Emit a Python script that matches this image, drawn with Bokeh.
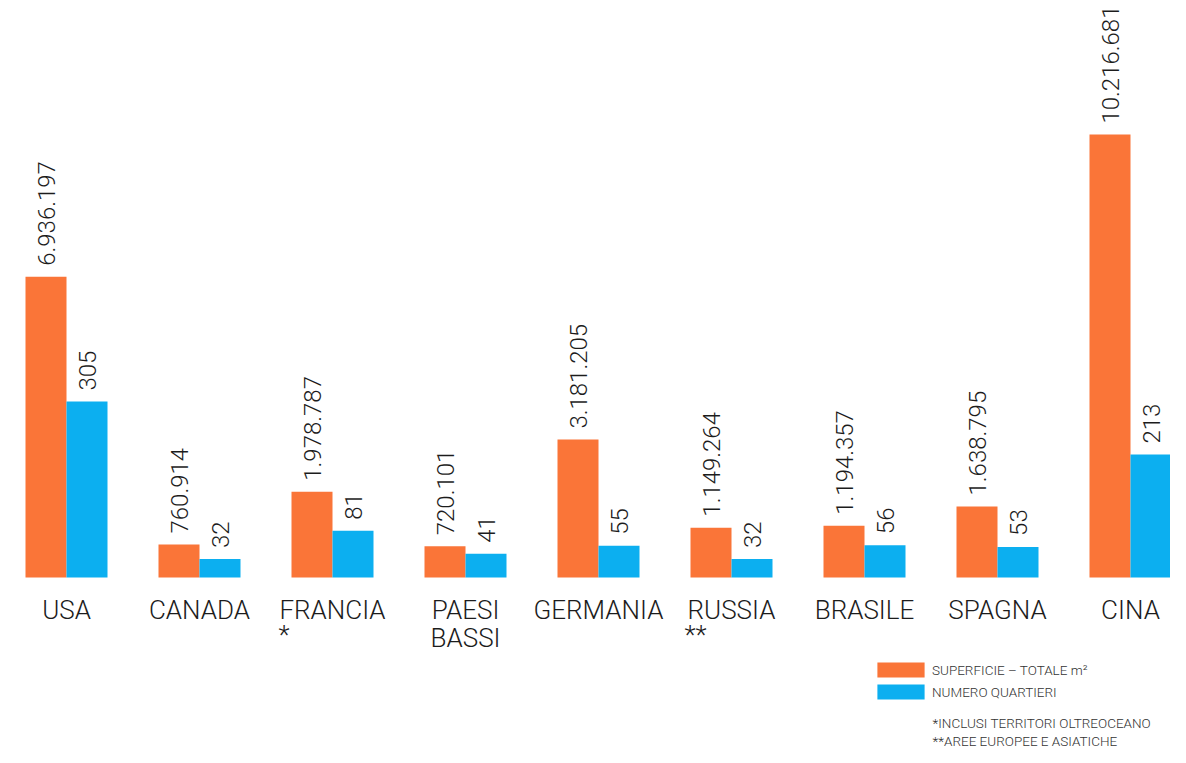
import numpy as np
from bokeh.plotting import figure
from bokeh.models import ColumnDataSource, Range1d, Label
from bokeh.transform import dodge
from bokeh.core.properties import value
from bokeh.embed import file_html
from bokeh.resources import INLINE

# ---- data -------------------------------------------------------------
countries = ["USA", "CANADA", "FRANCIA", "PAESI\nBASSI", "GERMANIA",
             "RUSSIA", "BRASILE", "SPAGNA", "CINA"]
notes = ["", "", "*", "", "", "**", "", "", ""]
superficie = [6936197, 760914, 1978787, 720101, 3181205,
              1149264, 1194357, 1638795, 10216681]
quartieri = [305, 32, 81, 41, 55, 32, 56, 53, 213]
legend_labels = ["SUPERFICIE – TOTALE m²", "NUMERO QUARTIERI"]
footnotes = ["*INCLUSI TERRITORI OLTREOCEANO", "**AREE EUROPEE E ASIATICHE"]

# ---- styling ----------------------------------------------------------
ORANGE = "#FA7538"
BLUE = "#0CAFF0"
TEXT = "#1c1c1c"
FONT_NAME = "Roboto Light"
FONT = value(FONT_NAME)
W, H = 1170, 747
BASE = H - 577      # px between frame bottom and bar baseline
PITCH = 133.0       # px between group centres
FIRST = 66.0        # px from frame left to first group centre
BAR_PX = 41.0       # px width of one bar
ORANGE_TOP_PX = 443 # px height of tallest orange bar
BLUE_TOP_PX = 176   # px height of tallest blue bar


def it_fmt(v):
    return f"{v:,}".replace(",", ".")


idx = np.arange(len(countries))
k1 = ORANGE_TOP_PX / max(superficie)
k2 = BLUE_TOP_PX / max(quartieri)
bw = BAR_PX / PITCH

src = ColumnDataSource(dict(
    idx=idx,
    sup=superficie,
    q=quartieri,
    name=countries,
    note=notes,
    note_dx=[0, 0, -54, 0, 0, -47, 0, 0, 0],
    sup_lbl=[it_fmt(v) for v in superficie],
    q_lbl=[it_fmt(v) for v in quartieri],
))

x0 = -FIRST / PITCH
p = figure(width=W, height=H, output_backend="svg", toolbar_location=None,
           x_range=Range1d(x0, x0 + W / PITCH),
           y_range=Range1d(-BASE / k1, (H - BASE) / k1),
           x_axis_location=None, y_axis_location=None,
           min_border=0, outline_line_color=None)
p.extra_y_ranges = {"q": Range1d(-BASE / k2, (H - BASE) / k2)}
p.grid.visible = False

xo = dodge("idx", -bw / 2, range=p.x_range)
xb = dodge("idx", bw / 2, range=p.x_range)

p.vbar(x=xo, top="sup", bottom=0, width=bw, source=src,
       fill_color=ORANGE, line_color=None, legend_label=legend_labels[0])
p.vbar(x=xb, top="q", bottom=0, width=bw, source=src, y_range_name="q",
       fill_color=BLUE, line_color=None, legend_label=legend_labels[1])

# value labels (rotated)
p.text(x=xo, y="sup", text="sup_lbl", source=src, angle=np.pi / 2,
       text_align="left", text_baseline="middle", y_offset=-11,
       text_font=FONT, text_font_size="24px", text_color=TEXT)
p.text(x=xb, y="q", text="q_lbl", source=src, angle=np.pi / 2,
       y_range_name="q",
       text_align="left", text_baseline="middle", y_offset=-11,
       text_font=FONT, text_font_size="24px", text_color=TEXT)

# category labels
p.text(x="idx", y=0, text="name", source=src,
       text_align="center", text_baseline="top", y_offset=17,
       text_line_height=0.96,
       text_font=FONT, text_font_size="26px", text_color=TEXT)
p.text(x="idx", y=0, text="note", source=src, x_offset="note_dx",
       text_align="left", text_baseline="top", y_offset=42,
       text_font=FONT, text_font_size="26px", text_color=TEXT)

# legend (bokeh insets area-glyph swatches by 10% on each side)
lg = p.legend[0]
lg.location = (871, 46)
lg.orientation = "vertical"
lg.glyph_width = 59
lg.glyph_height = 19
lg.label_height = 19
lg.spacing = 3
lg.padding = 0
lg.margin = 0
lg.label_standoff = 2
lg.label_text_font = FONT_NAME
lg.label_text_font_size = "13.5px"
lg.label_text_color = "#333333"
lg.border_line_color = None
lg.background_fill_alpha = 0

# footnotes
for txt, yy in zip(footnotes, [25, 7]):
    p.add_layout(Label(x=932, y=yy, x_units="screen", y_units="screen",
                       text=txt, text_font=FONT_NAME, text_font_size="13.5px",
                       text_color="#333333", text_baseline="middle"))

open("out.html", "w").write(file_html(p, INLINE))
